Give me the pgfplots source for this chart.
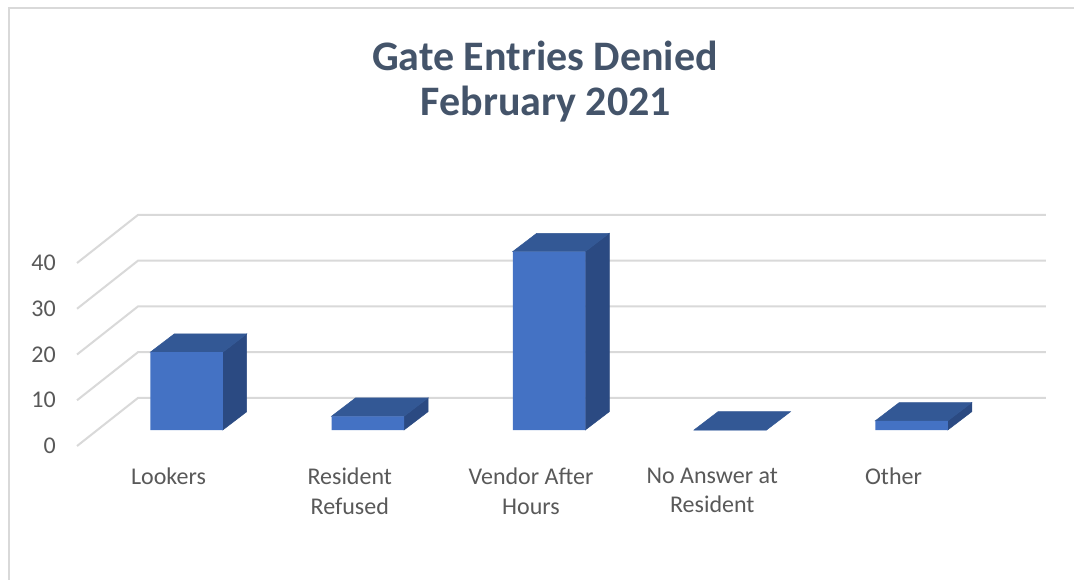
\documentclass[border=0pt]{standalone}
\usepackage{pgfplots}
\pgfplotsset{compat=1.18}
\usepackage{fontspec}
\setmainfont{Carlito}
\definecolor{frontc}{HTML}{4472C4}
\definecolor{topc}{HTML}{335895}
\definecolor{sidec}{HTML}{2B4A82}
\definecolor{gridc}{HTML}{D9D9D9}
\definecolor{titlec}{HTML}{44546A}
\definecolor{tickc}{HTML}{595959}
\begin{document}
\begin{tikzpicture}
\useasboundingbox (0,0) rectangle (1074pt,-580pt);
\fill[white] (0,0) rectangle (1074pt,-580pt);
\draw[gridc, line width=2pt] (9pt,-580pt) -- (9pt,-8pt) -- (1074pt,-8pt);
\node[text=titlec, font=\fontsize{42}{44}\selectfont\bfseries, anchor=base, inner sep=0pt] at (545pt,-71pt) {Gate Entries Denied};
\node[text=titlec, font=\fontsize{42}{44}\selectfont\bfseries, anchor=base, inner sep=0pt] at (546pt,-116pt) {February 2021};
\begin{axis}[
  at={(186.5pt,-430pt)}, anchor=origin,
  x=181.25pt, y=4.575pt,
  xmin=-0.72, xmax=4.852, ymin=-7.65, ymax=61.2,
  clip=false,
  axis line style={draw=none},
  major tick length=0pt,
  tick style={draw=none},
  /pgf/number format/assume math mode=true,
  xtick={0,1,2,3,4},
  xticklabels={Lookers,{Resident\\Refused},{Vendor After\\Hours},{No Answer at\\Resident},Other},
  xticklabel style={align=center, inner sep=0pt, xshift=-18pt, yshift=-3pt, text=tickc, font=\fontsize{24}{29.3}\selectfont},
  ytick={-3.5,6.5,16.5,26.5,36.5},
  yticklabels={0,10,20,30,40},
  yticklabel style={inner sep=0pt, text=tickc, font=\fontsize{24}{29.3}\selectfont},
]
% gridlines (floor diagonal + back wall)
\addplot[gridc, line width=2pt] coordinates {(-0.604,-3.5) (-0.268,7) (4.742,7)};
\addplot[gridc, line width=2pt] coordinates {(-0.604,6.5) (-0.268,17) (4.742,17)};
\addplot[gridc, line width=2pt] coordinates {(-0.604,16.5) (-0.268,27) (4.742,27)};
\addplot[gridc, line width=2pt] coordinates {(-0.604,26.5) (-0.268,37) (4.742,37)};
\addplot[gridc, line width=2pt] coordinates {(-0.604,36.5) (-0.268,47) (4.742,47)};
% side faces
\addplot[fill=sidec, draw=sidec, line width=0.5pt] coordinates {(0.2,0) (0.2,17) (0.3324,21) (0.3324,4)} -- cycle;
\addplot[fill=sidec, draw=sidec, line width=0.5pt] coordinates {(1.2,0) (1.2,3) (1.3324,7) (1.3324,4)} -- cycle;
\addplot[fill=sidec, draw=sidec, line width=0.5pt] coordinates {(2.2,0) (2.2,39) (2.3324,43) (2.3324,4)} -- cycle;
\addplot[fill=sidec, draw=sidec, line width=0.5pt] coordinates {(4.2,0) (4.2,2) (4.3324,6) (4.3324,4)} -- cycle;
% top faces
\addplot[fill=topc, draw=topc, line width=0.5pt] coordinates {(-0.2,17) (0.2,17) (0.3324,21) (-0.0676,21)} -- cycle;
\addplot[fill=topc, draw=topc, line width=0.5pt] coordinates {(0.8,3) (1.2,3) (1.3324,7) (0.9324,7)} -- cycle;
\addplot[fill=topc, draw=topc, line width=0.5pt] coordinates {(1.8,39) (2.2,39) (2.3324,43) (1.9324,43)} -- cycle;
\addplot[fill=topc, draw=topc, line width=0.5pt] coordinates {(2.8,0) (3.2,0) (3.3324,4) (2.9324,4)} -- cycle;
\addplot[fill=topc, draw=topc, line width=0.5pt] coordinates {(3.8,2) (4.2,2) (4.3324,6) (3.9324,6)} -- cycle;
% front faces
\addplot[ybar, bar width=0.4, bar shift=0pt, fill=frontc, draw=none] coordinates {(0,17) (1,3) (2,39) (3,0) (4,2)};
\end{axis}
\end{tikzpicture}
\end{document}
